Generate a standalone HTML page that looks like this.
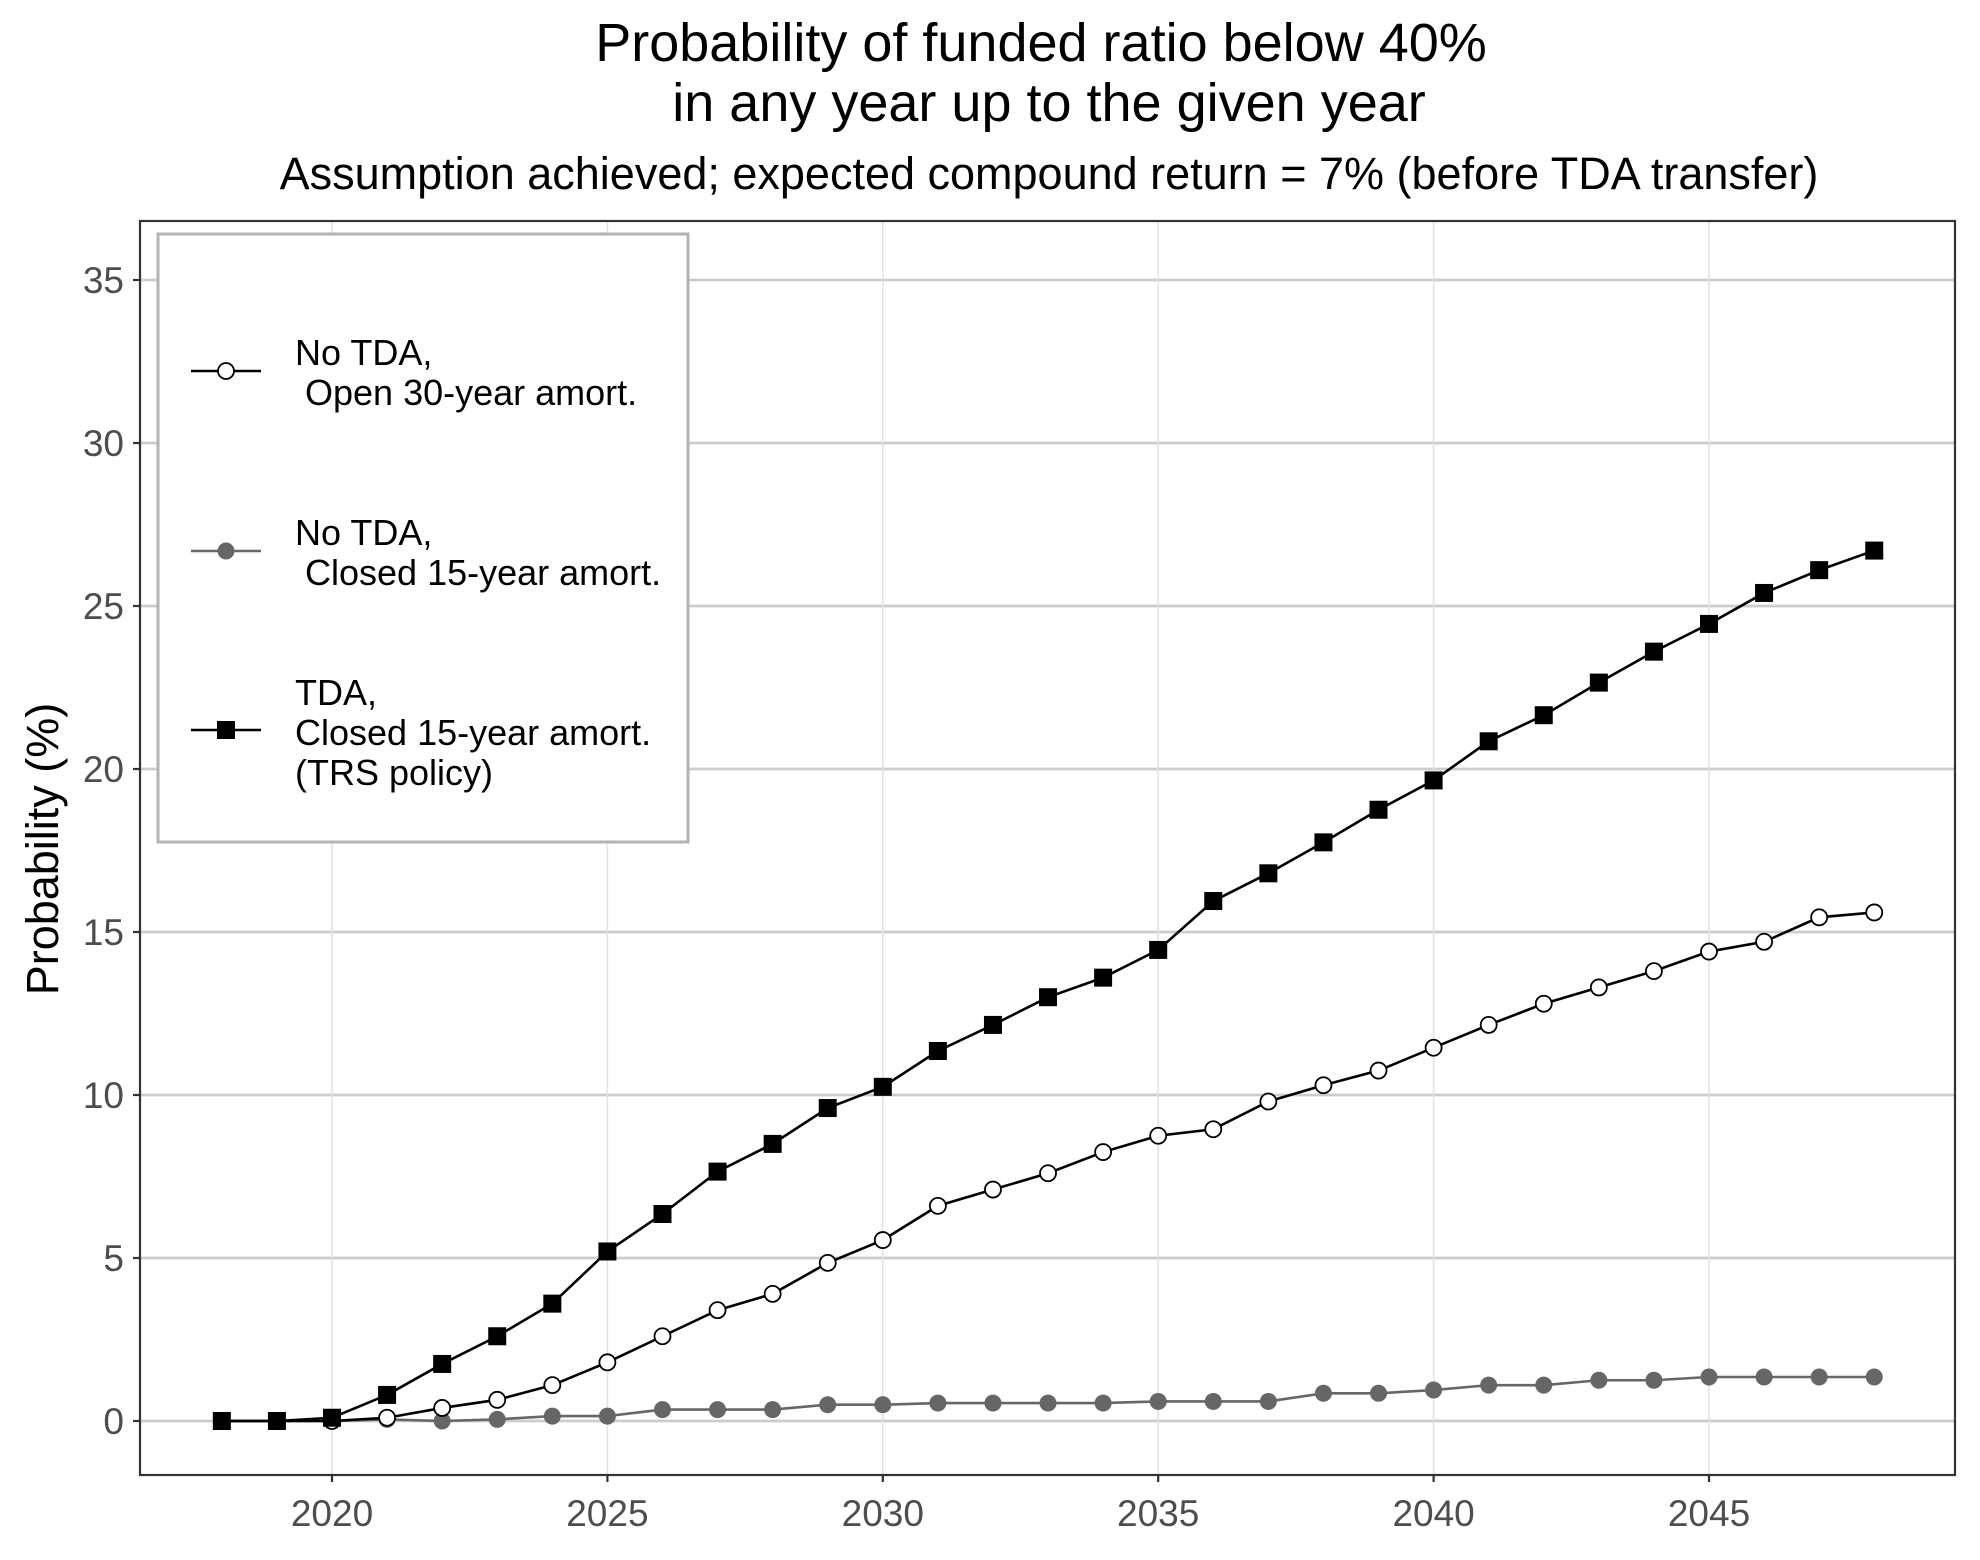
<!DOCTYPE html>
<html><head><meta charset="utf-8"><style>
body{margin:0;background:#fff}
svg{display:block;font-family:"Liberation Sans",Arial,sans-serif}
</style></head><body>
<svg id="chart" width="1980" height="1560" viewBox="0 0 1980 1560">
<rect width="1980" height="1560" fill="#fff"/>
<text x="1041" y="61" font-size="54" text-anchor="middle">Probability of funded ratio below 40%</text>
<text x="1049" y="121" font-size="54" text-anchor="middle">in any year up to the given year</text>
<text x="1049" y="189" font-size="45" text-anchor="middle">Assumption achieved; expected compound return = 7% (before TDA transfer)</text>
<g id="grid"></g>
<g id="series"></g>
<rect x="140" y="221" width="1815" height="1254" fill="none" stroke="#333" stroke-width="2.2"/>
<g id="axes"></g>
<text transform="translate(58,849) rotate(-90)" font-size="45" text-anchor="middle">Probability (%)</text>
<g>
<rect x="158" y="234" width="530" height="608" fill="#fff" stroke="#b3b3b3" stroke-width="3"/>
<g>
<line x1="191" y1="371" x2="261" y2="371" stroke="#000" stroke-width="2.6"/>
<circle cx="226" cy="371" r="8" fill="#fff" stroke="#000" stroke-width="1.8"/>
<text x="295" y="365" font-size="36">No TDA,</text>
<text x="305" y="405" font-size="36">Open 30-year amort.</text></g>
<g>
<line x1="191" y1="551" x2="261" y2="551" stroke="#666" stroke-width="2.6"/>
<circle cx="226" cy="551" r="8.5" fill="#666"/>
<text x="295" y="545" font-size="36">No TDA,</text>
<text x="305" y="585" font-size="36">Closed 15-year amort.</text></g>
<g>
<line x1="191" y1="730" x2="261" y2="730" stroke="#000" stroke-width="2.6"/>
<rect x="217" y="721" width="18" height="18" fill="#000"/>
<text x="295" y="705" font-size="36">TDA,</text>
<text x="295" y="745" font-size="36">Closed 15-year amort.</text>
<text x="295" y="785" font-size="36">(TRS policy)</text></g>
</g>
</svg>
<script>
const years=[2018,2019,2020,2021,2022,2023,2024,2025,2026,2027,2028,2029,2030,2031,2032,2033,2034,2035,2036,2037,2038,2039,2040,2041,2042,2043,2044,2045,2046,2047,2048];
const tdaValues=[0,0,0.1,0.8,1.75,2.6,3.6,5.2,6.35,7.65,8.5,9.6,10.25,11.35,12.15,13.0,13.6,14.45,15.95,16.8,17.75,18.75,19.65,20.85,21.65,22.65,23.6,24.45,25.4,26.1,26.7];
const openValues=[0,0,0,0.1,0.4,0.65,1.1,1.8,2.6,3.4,3.9,4.85,5.55,6.6,7.1,7.6,8.25,8.75,8.95,9.8,10.3,10.75,11.45,12.15,12.8,13.3,13.8,14.4,14.7,15.45,15.6];
const closedValues=[0,0,0,0.05,0,0.05,0.15,0.15,0.35,0.35,0.35,0.5,0.5,0.55,0.55,0.55,0.55,0.6,0.6,0.6,0.85,0.85,0.95,1.1,1.1,1.25,1.25,1.35,1.35,1.35,1.35];
const xTicks=[2020,2025,2030,2035,2040,2045];
const yTicks=[0,5,10,15,20,25,30,35];
const NS="http://www.w3.org/2000/svg";
function X(v){return 332+(v-2020)*(1709-332)/25;}
function Y(v){return 1421-v*(1421-280)/35;}
function mk(tag,attrs,parent){const e=document.createElementNS(NS,tag);for(const k in attrs)e.setAttribute(k,attrs[k]);parent.appendChild(e);return e;}
const grid=document.getElementById('grid'),axes=document.getElementById('axes'),ser=document.getElementById('series');
yTicks.forEach(v=>{const l=mk('line',{x1:140,x2:1955,y1:Y(v),y2:Y(v),stroke:'#cccccc','stroke-width':2.8},grid);


const t=mk('line',{x1:133,x2:140,y1:Y(v),y2:Y(v),stroke:'#333','stroke-width':2.2},axes);


const tx=mk('text',{x:124,y:Y(v)+13,'font-size':37,'text-anchor':'end',fill:'#4d4d4d'},axes);tx.textContent=v;

});
xTicks.forEach(v=>{const l=mk('line',{x1:X(v),x2:X(v),y1:221,y2:1475,stroke:'#e3e3e3','stroke-width':1.6},grid);


const t=mk('line',{x1:X(v),x2:X(v),y1:1475,y2:1482,stroke:'#333','stroke-width':2.2},axes);


const tx=mk('text',{x:X(v),y:1526,'font-size':37,'text-anchor':'middle',fill:'#4d4d4d'},axes);tx.textContent=v;

});
function path(vals){return vals.map((v,i)=>(i?'L':'M')+X(years[i])+','+Y(v)).join('');}
function drawSeries(vals,color,kind,name){
const g=mk('g',{},ser);


mk('path',{d:path(vals),fill:'none',stroke:color,'stroke-width':2.6},g);
vals.forEach((v,i)=>{let m;
if(kind==='square')m=mk('rect',{x:X(years[i])-9,y:Y(v)-9,width:18,height:18,fill:'#000'},g);
else if(kind==='open')m=mk('circle',{cx:X(years[i]),cy:Y(v),r:8,fill:'#fff',stroke:'#000','stroke-width':1.8},g);
else m=mk('circle',{cx:X(years[i]),cy:Y(v),r:8.5,fill:'#666'},g);

});}
drawSeries(closedValues,'#666','filled','series-closed-15');
drawSeries(openValues,'#000','open','series-open-30');
drawSeries(tdaValues,'#000','square','series-tda');
</script>
</body></html>
